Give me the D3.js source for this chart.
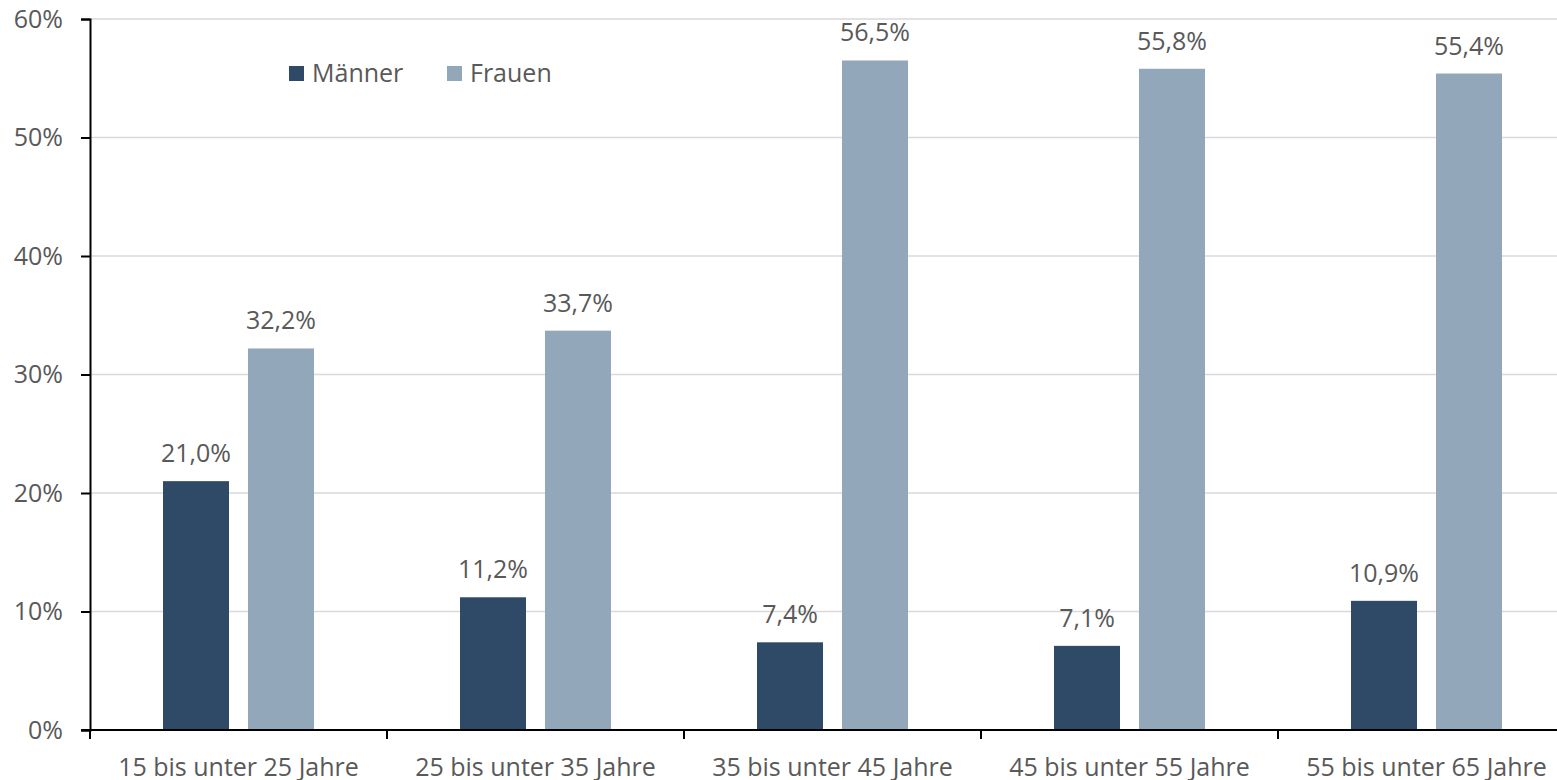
<!DOCTYPE html>
<html>
<head>
<meta charset="utf-8">
<script src="https://cdn.jsdelivr.net/npm/d3@7"></script>
<style>
  body { margin: 0; background: #fff; }
  svg text { font-family: "Open Sans", sans-serif; fill: #595959; }
</style>
</head>
<body>
<svg id="chart" width="1557" height="780"></svg>
<script>
// Altersgruppen
var categories = ["15 bis unter 25 Jahre", "25 bis unter 35 Jahre", "35 bis unter 45 Jahre", "45 bis unter 55 Jahre", "55 bis unter 65 Jahre"];
var series = ["Männer", "Frauen"];
var maenner = [21.0, 11.2, 7.4, 7.1, 10.9];
var frauen = [32.2, 33.7, 56.5, 55.8, 55.4];
var yTicks = [0, 10, 20, 30, 40, 50, 60];
var colors = ["#2f4a66", "#93a7bb"];

var svg = d3.select("#chart");
var mLeft = 90, mRight = 1575, mTop = 19, mBottom = 730;
var fs = 25;

var x = d3.scaleBand().domain(categories).range([mLeft, mRight]).padding(0);
var x1 = d3.scaleBand().domain(series).range([0, x.bandwidth()]).paddingInner(0.2235).paddingOuter(0.859);
var y = d3.scaleLinear().domain([0, 60]).range([mBottom, mTop]);

// gitterlinien
svg.append("g").selectAll("line")
  .data(yTicks.slice(1))
  .join("line")
  .attr("x1", mLeft).attr("x2", 1557)
  .attr("y1", d => y(d)).attr("y2", d => y(d))
  .attr("stroke", "#d9d9d9").attr("stroke-width", 1.5);

// balken
var data = categories.map((c, i) => ({ cat: c, values: [maenner[i], frauen[i]] }));
var groups = svg.append("g").selectAll("g")
  .data(data)
  .join("g")
  .attr("transform", d => "translate(" + x(d.cat) + ",0)");

groups.selectAll("rect")
  .data(d => d.values.map((v, j) => ({ s: series[j], v: v, j: j })))
  .join("rect")
  .attr("x", d => x1(d.s))
  .attr("width", x1.bandwidth())
  .attr("y", d => y(d.v))
  .attr("height", d => y(0) - y(d.v))
  .attr("fill", d => colors[d.j]);

groups.selectAll("text")
  .data(d => d.values.map((v, j) => ({ s: series[j], v: v })))
  .join("text")
  .attr("x", d => x1(d.s) + x1.bandwidth() / 2)
  .attr("y", d => y(d.v) - 19)
  .attr("text-anchor", "middle")
  .attr("font-size", fs)
  .text(d => d.v.toFixed(1).replace(".", ",") + "%");

// y achse
var yAxis = svg.append("g")
  .attr("transform", "translate(" + mLeft + ",0)")
  .call(d3.axisLeft(y).tickValues(yTicks).tickSize(9).tickPadding(18).tickFormat(d => d + "%"));
yAxis.select(".domain").attr("stroke", "#000").attr("stroke-width", 2);
yAxis.selectAll(".tick line").attr("stroke", "#000").attr("stroke-width", 2);
yAxis.selectAll(".tick text").attr("font-size", fs).attr("fill", "#595959").attr("font-family", "Open Sans");

// x achse
svg.append("line")
  .attr("x1", mLeft - 9).attr("x2", 1557)
  .attr("y1", y(0)).attr("y2", y(0))
  .attr("stroke", "#000").attr("stroke-width", 2);

svg.append("g").selectAll("line")
  .data(categories)
  .join("line")
  .attr("x1", d => x(d)).attr("x2", d => x(d))
  .attr("y1", y(0)).attr("y2", y(0) + 9)
  .attr("stroke", "#000").attr("stroke-width", 2);

svg.append("g").selectAll("text")
  .data(categories)
  .join("text")
  .attr("x", d => x(d) + x.bandwidth() / 2)
  .attr("y", y(0) + 46)
  .attr("text-anchor", "middle")
  .attr("font-size", fs)
  .text(d => d);

// legende
var legendX = [289, 447];
var legend = svg.append("g").selectAll("g")
  .data(series)
  .join("g")
  .attr("transform", (d, i) => "translate(" + legendX[i] + ",66)");
legend.append("rect").attr("width", 15).attr("height", 15).attr("fill", (d, i) => colors[i]);
legend.append("text").attr("x", 23).attr("y", 16).attr("font-size", fs).text(d => d);
</script>
</body>
</html>
